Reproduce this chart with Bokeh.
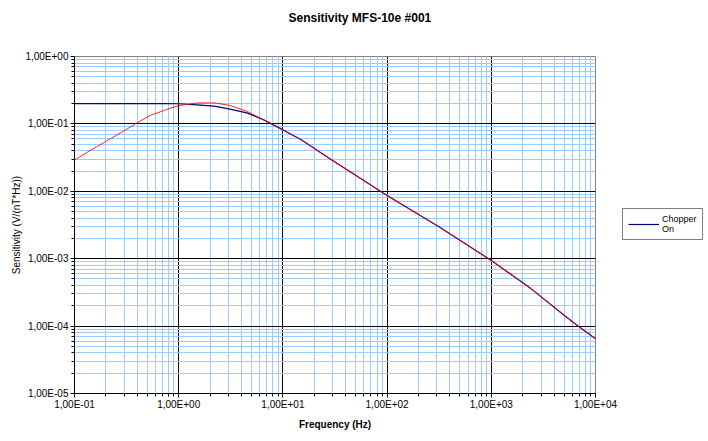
from bokeh.plotting import figure
from bokeh.models import (Range1d, FixedTicker, CustomJSTickFormatter, Legend, LegendItem, Title)
from bokeh.embed import file_html
from bokeh.resources import INLINE

# ---- data ----
freq_hz = [0.1, 0.14, 0.2, 0.3, 0.4, 0.53, 0.72, 1.0, 1.5, 2.2, 3.1, 4.5, 6.5, 9.5,
           15, 30, 100, 320, 1000, 2400, 5000, 6700, 10000]
chopper_on = [0.2, 0.2, 0.2, 0.2, 0.2, 0.2, 0.2, 0.199, 0.192, 0.183, 0.166, 0.146,
              0.115, 0.085, 0.058, 0.0286, 0.00866, 0.00293, 0.00094, 3.6e-4,
              1.45e-4, 1.02e-4, 6.5e-5]
chopper_off = [0.029, 0.040, 0.055, 0.079, 0.104, 0.133, 0.158, 0.187, 0.204, 0.205,
               0.188, 0.154, 0.116, 0.086, 0.058, 0.0286, 0.00866, 0.00293, 0.00094,
               3.6e-4, 1.45e-4, 1.02e-4, 6.5e-5]

x_major = [0.1, 1, 10, 100, 1000, 10000]
y_major = [1e-5, 1e-4, 1e-3, 1e-2, 1e-1, 1]
title_text = "Sensitivity MFS-10e #001"
x_label = "Frequency (Hz)"
y_label = "Sensitivity (V/(nT*Hz))"
legend_label = "Chopper\nOn"

x_minor = [m * d for d in x_major[:-1] for m in range(2, 10)]
y_minor = [m * d for d in y_major[:-1] for m in range(2, 10)]

FONT = "Liberation Sans"

p = figure(frame_width=521, frame_height=337, x_axis_type="log", y_axis_type="log",
           x_range=Range1d(0.1, 10000), y_range=Range1d(1e-5, 1),
           output_backend="svg", toolbar_location=None,
           min_border_left=74, min_border_right=105, min_border_top=56,
           min_border_bottom=40, background_fill_color="white",
           border_fill_color="white", outline_line_color="#808080")

# spacer panel next to the frame, then the visible title further up
spacer = Title(text=" ", text_font=FONT, text_font_size="26px", standoff=0)
p.add_layout(spacer, "above")
main_title = Title(text=title_text, align="left", offset=214, standoff=0,
                   text_font=FONT, text_font_size="12px", text_font_style="bold",
                   text_color="black")
p.add_layout(main_title, "above")

fmt = CustomJSTickFormatter(code="""
const s = tick.toExponential(2);
const parts = s.split('e');
const n = parseInt(parts[1]);
const a = Math.abs(n);
return parts[0].replace('.', ',') + 'E' + (n < 0 ? '-' : '+') + (a < 10 ? '0' : '') + a;
""")

for ax, maj, mnr in ((p.xaxis[0], x_major, x_minor), (p.yaxis[0], y_major, y_minor)):
    ax.ticker = FixedTicker(ticks=maj, minor_ticks=mnr)
    ax.formatter = fmt
    ax.axis_line_color = "black"
    ax.major_tick_line_color = "black"
    ax.minor_tick_line_color = "black"
    ax.major_tick_out = 4
    ax.major_tick_in = 0
    ax.minor_tick_out = 3
    ax.minor_tick_in = 0
    ax.major_label_text_font = FONT
    ax.major_label_text_font_size = "10px"
    ax.major_label_text_color = "black"
    ax.axis_label_text_font = FONT
    ax.axis_label_text_font_size = "10px"
    ax.axis_label_text_color = "black"

p.xaxis.axis_label = x_label
p.xaxis.axis_label_text_font_style = "bold"
p.xaxis.major_label_standoff = 1
p.xaxis.axis_label_standoff = 6
p.yaxis.axis_label = y_label
p.yaxis.axis_label_text_font_style = "normal"
p.yaxis.major_label_standoff = 2
p.yaxis.axis_label_standoff = 0

for g in (p.xgrid[0], p.ygrid[0]):
    g.grid_line_color = "black"
    g.grid_line_width = 1
    g.minor_grid_line_color = "#99CCFF"
    g.minor_grid_line_width = 1

r_on = p.line(freq_hz, chopper_on, line_color="#000080", line_width=1.2)
r_off = p.line(freq_hz, chopper_off, line_color="#FF0000", line_width=1.0, line_alpha=0.85)

legend = Legend(items=[LegendItem(label=legend_label, renderers=[r_on])],
                location=(27, 153), orientation="vertical",
                border_line_color="black", border_line_width=1,
                background_fill_color="white", background_fill_alpha=1,
                padding=5, margin=0, spacing=0, glyph_width=31, glyph_height=12,
                label_standoff=3, label_text_font=FONT, label_text_font_size="9px",
                label_text_color="black")
p.add_layout(legend, "right")

open("out.html", "w").write(file_html(p, INLINE))
